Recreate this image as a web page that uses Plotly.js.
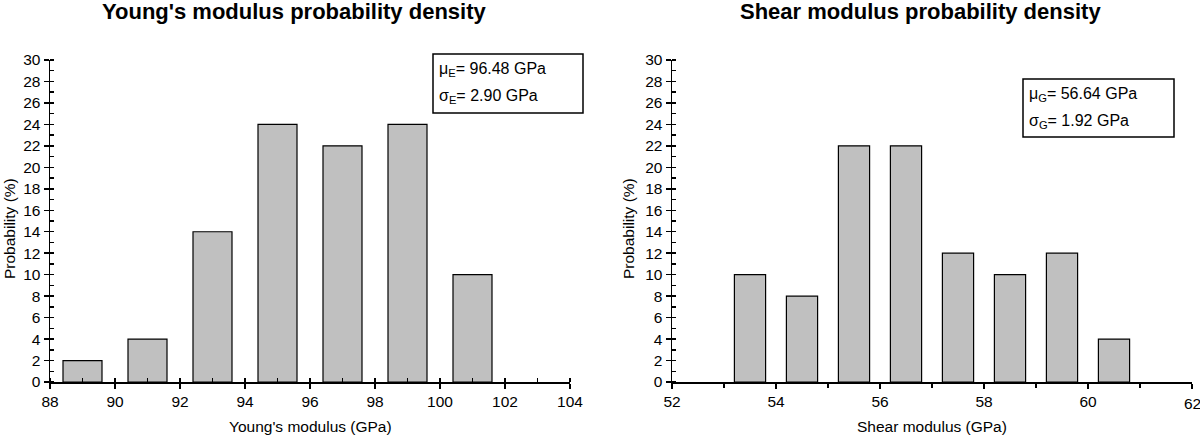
<!DOCTYPE html>
<html>
<head>
<meta charset="utf-8">
<script src="https://cdn.plot.ly/plotly-3.0.1.min.js"></script>
<style>html,body{margin:0;padding:0;background:#fff;}#chart{width:1200px;height:436px;}</style>
</head>
<body>
<div id="chart"></div>
<script>
// ---- data ----
const youngBins = [89, 91, 93, 95, 97, 99, 101];
const youngProb = [2, 4, 14, 24, 22, 24, 10];
const shearBins = [53.5, 54.5, 55.5, 56.5, 57.5, 58.5, 59.5, 60.5];
const shearProb = [10, 8, 22, 22, 12, 10, 12, 4];
const titles = ["Young's modulus probability density", "Shear modulus probability density"];
const xTitles = ["Young's modulus (GPa)", "Shear modulus (GPa)"];
const yTitle = "Probability (%)";
const youngStats = ["\u03bc<sub>E</sub>= 96.48 GPa", "\u03c3<sub>E</sub>= 2.90 GPa"];
const shearStats = ["\u03bc<sub>G</sub>= 56.64 GPa", "\u03c3<sub>G</sub>= 1.92 GPa"];
const shearLastTick = 62;

// ---- layout helpers (pixel -> paper) ----
const W = 1200, H = 436;
const px = v => v / W;
const py = v => 1 - v / H;
const FONT = "Liberation Sans, Arial, sans-serif";

const barStyle = {color: '#c0c0c0', line: {color: '#000', width: 1.2}};
const traces = [
  {type: 'bar', x: youngBins, y: youngProb, width: 1.2, marker: barStyle, xaxis: 'x', yaxis: 'y', hoverinfo: 'x+y'},
  {type: 'bar', x: shearBins, y: shearProb, width: 0.6, marker: barStyle, xaxis: 'x2', yaxis: 'y2', hoverinfo: 'x+y'}
];

function xAx(domain, range, anchor, minorDir) {
  return {
    domain: domain, range: range, anchor: anchor,
    tick0: range[0], dtick: 2, ticks: 'outside', ticklen: 5, tickwidth: 1.5, tickcolor: '#000',
    minor: {dtick: 1, ticks: minorDir, ticklen: 4, tickwidth: 1.5, tickcolor: '#000', showgrid: false},
    showline: true, linecolor: '#000', linewidth: 1.5, showgrid: false, zeroline: false,
    tickfont: {family: FONT, size: 15.5, color: '#000'}, fixedrange: true
  };
}
function yAx(anchor) {
  return {
    domain: [1 - 382 / H, 1 - 60 / H], range: [0, 30], anchor: anchor,
    tick0: 0, dtick: 2, ticks: 'outside', ticklen: 5, tickwidth: 1.5, tickcolor: '#000',
    minor: {dtick: 1, ticks: 'inside', ticklen: 4, tickwidth: 1.5, tickcolor: '#000', showgrid: false},
    showline: true, linecolor: '#000', linewidth: 1.5, showgrid: false, zeroline: false,
    tickfont: {family: FONT, size: 15.5, color: '#000'}, fixedrange: true
  };
}

const ann = [];
function txt(text, x, y, size, opts) {
  ann.push(Object.assign({
    text: text, xref: 'paper', yref: 'paper', x: px(x), y: py(y),
    xanchor: 'center', yanchor: 'middle', showarrow: false,
    font: {family: FONT, size: size, color: '#000'}
  }, opts || {}));
}
// chart titles
txt('<b>' + titles[0] + '</b>', 294, 11, 22);
txt('<b>' + titles[1] + '</b>', 920, 11, 22);
// axis titles
txt(xTitles[0], 310, 426, 15.5);
txt(xTitles[1], 932, 426, 15.5);
txt(yTitle, 9, 229, 15.5, {textangle: -90});
txt(yTitle, 628, 229, 15.5, {textangle: -90});
// stats boxes text
txt(youngStats[0], 437, 69, 16, {xanchor: 'left'});
txt(youngStats[1], 437, 96, 16, {xanchor: 'left'});
txt(shearStats[0], 1027, 94, 16, {xanchor: 'left'});
txt(shearStats[1], 1027, 121, 16, {xanchor: 'left'});
// last tick label of shear axis (clipped by the page edge in the original)
ann.push({text: String(shearLastTick), xref: 'x2', yref: 'paper', x: shearLastTick, y: py(403),
  xanchor: 'center', yanchor: 'middle', showarrow: false, font: {family: FONT, size: 15.5, color: '#000'}});

const shapes = [
  {type: 'rect', xref: 'paper', yref: 'paper', x0: px(433), x1: px(583), y0: py(113), y1: py(54), line: {color: '#000', width: 1.5}, fillcolor: 'rgba(0,0,0,0)'},
  {type: 'rect', xref: 'paper', yref: 'paper', x0: px(1023), x1: px(1174), y0: py(137), y1: py(79), line: {color: '#000', width: 1.5}, fillcolor: 'rgba(0,0,0,0)'}
];

const layout = {
  width: W, height: H,
  margin: {l: 0, r: 0, t: 0, b: 0},
  paper_bgcolor: '#fff', plot_bgcolor: '#fff',
  showlegend: false, bargap: 0,
  xaxis: xAx([px(50), px(570)], [88, 104], 'y', 'inside'),
  yaxis: yAx('x'),
  xaxis2: xAx([px(672), px(1192)], [52, 62], 'y2', 'outside'),
  yaxis2: yAx('x2'),
  annotations: ann, shapes: shapes
};

Plotly.newPlot('chart', traces, layout, {displayModeBar: false, staticPlot: true});
</script>
</body>
</html>
